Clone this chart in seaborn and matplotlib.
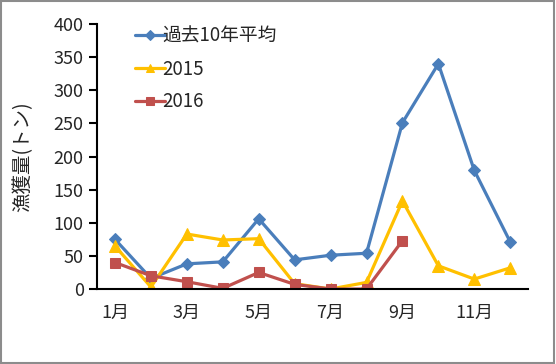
import matplotlib
matplotlib.use("Agg")
import matplotlib.pyplot as plt
import pandas as pd
import seaborn as sns
import numpy as np

# Data
months = list(range(1, 13))
month_labels = ["1月", "", "3月", "", "5月", "", "7月", "", "9月", "", "11月", ""]
avg_10yr = [75, 16, 38, 41, 106, 44, 51, 54, 251, 340, 179, 71]
y2015 = [65, 3, 83, 74, 76, 8, 0, 10, 133, 35, 15, 32]
y2016 = [40, 20, 11, 1, 25, 7, 0, 0, 73, np.nan, np.nan, np.nan]

series_names = ["過去10年平均", "2015", "2016"]
colors = ["#4A7EBB", "#FFC000", "#C0504D"]
markers = ["D", "^", "s"]
msizes = [6, 8, 7]

df = pd.DataFrame({"month": months, series_names[0]: avg_10yr,
                   series_names[1]: y2015, series_names[2]: y2016})

sns.set_style("white")
plt.rcParams["font.family"] = ["Noto Sans CJK JP", "DejaVu Sans"]

fig = plt.figure(figsize=(5.56, 3.64), dpi=100)
ax = fig.add_axes([0.1745, 0.206, 0.7755, 0.728])

for name, c, m, ms in zip(series_names, colors, markers, msizes):
    sns.lineplot(data=df, x="month", y=name, ax=ax, color=c, marker=m,
                 markersize=ms, markeredgecolor=c, linewidth=2.3, label=name)

ax.set_xlim(0.5, 12.5)
ax.set_ylim(0, 400)
ax.set_yticks(range(0, 401, 50))
ax.set_xticks(months)
ax.set_xticklabels(month_labels)
ax.set_xticks(np.arange(0.5, 13, 1), minor=True)
ax.tick_params(axis="x", which="major", length=0, pad=11, labelsize=13)
ax.tick_params(axis="x", which="minor", length=6, width=1.5, direction="out", color="black")
ax.tick_params(axis="y", length=6, width=1.5, direction="out", color="black", labelsize=13, left=True)

for s in ["top", "right"]:
    ax.spines[s].set_visible(False)
for s in ["left", "bottom"]:
    ax.spines[s].set_color("black")
    ax.spines[s].set_linewidth(1.5)

ax.set_xlabel("")
ax.set_ylabel("漁獲量(トン)", fontsize=14)
ax.yaxis.set_label_coords(-0.148, 0.5)

leg = ax.legend(loc="upper left", bbox_to_anchor=(0.049, 1.056), frameon=False,
                fontsize=13.5, handlelength=1.6, handletextpad=-0.15, labelspacing=0.62,
                markerscale=0.8)

fig.patches.append(plt.Rectangle((0.002, 0.003), 0.995, 0.994, transform=fig.transFigure,
                                 fill=False, edgecolor="#8c8c8c", linewidth=1.5))

fig.savefig("out.png", dpi=100)
